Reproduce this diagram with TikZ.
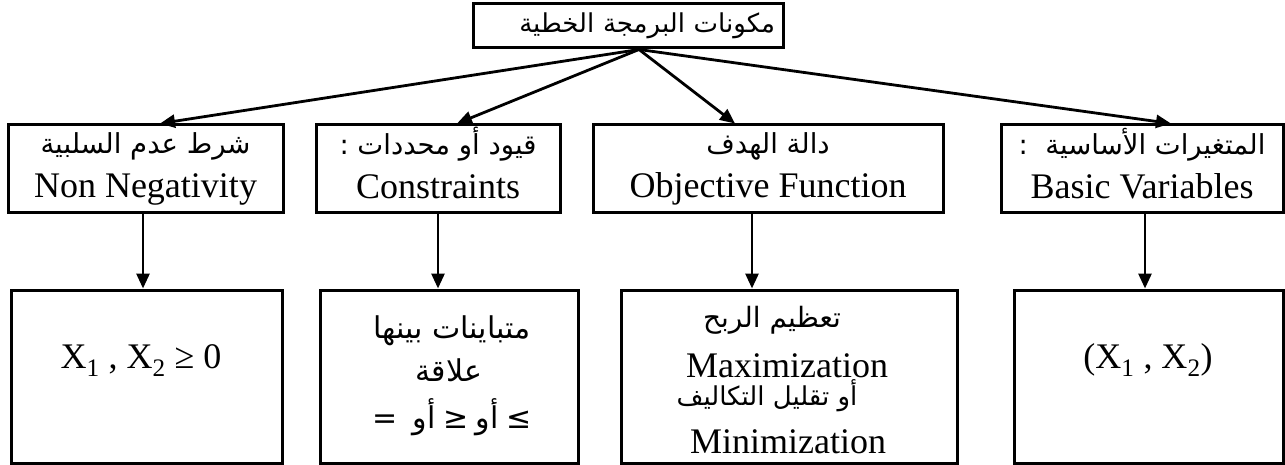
\documentclass[tikz,border=0pt]{standalone}
\usepackage{fontspec}
\setmainfont{Liberation Serif}
\newfontfamily\arabicfont[Script=Arabic]{DejaVu Sans}
\newfontfamily\symfont{DejaVu Sans}
\TeXXeTstate=1
\usetikzlibrary{arrows.meta}
\newcommand{\artxt}[1]{{\arabicfont\beginR #1\endR}}
\newcommand{\arstrut}{\rule[-8pt]{0pt}{34pt}}
\newcommand{\enstrut}{\rule[-12pt]{0pt}{30pt}}
\begin{document}
\begin{tikzpicture}[x=1pt,y=-1pt,
  box/.style={draw, line width=3pt, inner sep=0pt, align=center},
  arr/.style={line width=2.8pt, -{Triangle[length=15pt,width=13pt]}},
  en/.style={font=\fontsize{36}{44}\selectfont},
  ar/.style={font=\fontsize{28}{34}\selectfont},
  txt/.style={anchor=base, inner sep=0pt},
]
\useasboundingbox (0,0) rectangle (1285,465);
% top
\node[box, minimum width=310pt, minimum height=44pt, text width=294pt, align=right,
  font=\fontsize{26}{32}\selectfont] (top) at (628,26) {\mbox{\artxt{مكونات البرمجة الخطية}}};
% level 2
\node[box, en, minimum width=275pt, minimum height=88pt] (b1) at (145.5,169)
  {{\fontsize{27.5}{34}\selectfont\arstrut\artxt{شرط عدم السلبية}}\\\enstrut Non Negativity};
\node[box, en, minimum width=244pt, minimum height=88pt] (b2) at (438,169)
  {{\fontsize{27.5}{34}\selectfont\arstrut\artxt{قيود أو محددات :}}\\\enstrut Constraints};
\node[box, en, minimum width=350pt, minimum height=88pt] (b3) at (768,169)
  {{\fontsize{27.5}{34}\selectfont\arstrut\artxt{دالة الهدف}}\\\enstrut Objective Function};
\node[box, en, minimum width=282pt, minimum height=88pt] (b4) at (1142,169)
  {{\fontsize{27.5}{34}\selectfont\arstrut\artxt{المتغيرات الأساسية~ :}}\\\enstrut Basic Variables};
% level 3
\node[box, minimum width=271pt, minimum height=173pt] (A) at (146.5,376.5) {};
\node[box, minimum width=258pt, minimum height=173pt] (B) at (449,376.5) {};
\node[box, minimum width=336pt, minimum height=173pt] (C) at (789,376.5) {};
\node[box, minimum width=269pt, minimum height=173pt] (D) at (1148.5,376.5) {};
% texts of level 3
\node[en, txt] (At) at (141,368) {X\textsubscript{1} , X\textsubscript{2} ≥ 0};
\node[en, txt] (Dt) at (1148,368) {(X\textsubscript{1} , X\textsubscript{2})};
\node[font=\fontsize{30}{36}\selectfont, txt] (B1) at (452,338) {\artxt{متباينات بينها}};
\node[font=\fontsize{30}{36}\selectfont, txt] (B2) at (449,381) {\artxt{علاقة}};
\node[font=\fontsize{30}{36}\selectfont, txt] (B3) at (452,428)
  {{\symfont =}\ \ \artxt{أو}\ {\symfont ≥}\ \artxt{أو}\ {\symfont ≤}};
\node[ar, txt] (C1) at (772,327) {\artxt{تعظيم الربح}};
\node[en, txt] (C2) at (787,377) {Maximization};
\node[font=\fontsize{26}{32}\selectfont, txt] (C3) at (767,405) {\artxt{أو تقليل التكاليف}};
\node[en, txt] (C4) at (788,453) {Minimization};
% arrows
\draw[arr] ([xshift=11pt]top.south) -- ([xshift=14.5pt]b1.north);
\draw[arr] ([xshift=11pt]top.south) -- ([xshift=19pt]b2.north);
\draw[arr] ([xshift=11pt]top.south) -- ([xshift=-33pt]b3.north);
\draw[arr] ([xshift=11pt]top.south) -- ([xshift=29pt]b4.north);
\draw[arr] ([xshift=-2.5pt]b1.south) -- ([xshift=-2.5pt]b1.south |- A.north);
\draw[arr] (b2.south) -- (b2.south |- B.north);
\draw[arr] ([xshift=-16pt]b3.south) -- ([xshift=-16pt]b3.south |- C.north);
\draw[arr] ([xshift=3pt]b4.south) -- ([xshift=3pt]b4.south |- D.north);
\end{tikzpicture}
\end{document}
